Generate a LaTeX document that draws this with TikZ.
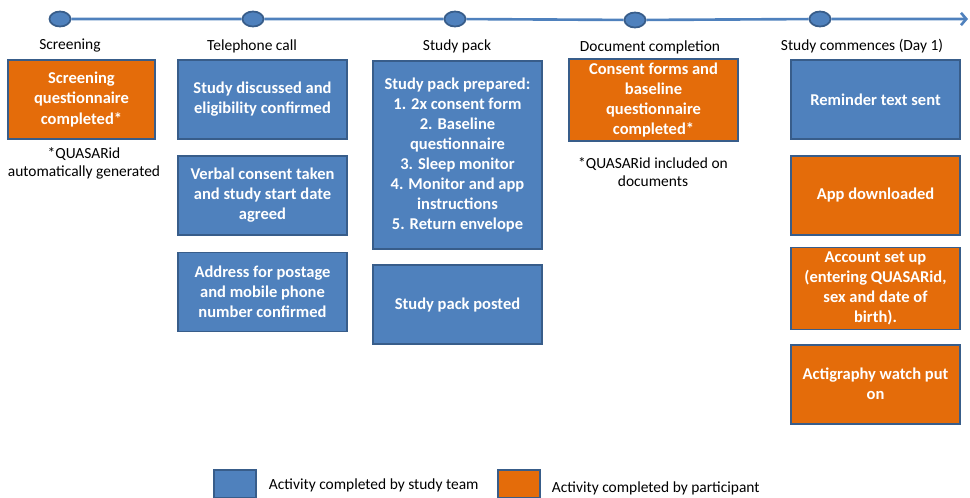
\documentclass[tikz,border=0pt]{standalone}
\usepackage{fontspec}
\setmainfont{Carlito}
\usetikzlibrary{arrows.meta, positioning, shapes.geometric}
\definecolor{teamblue}{HTML}{4F81BD}
\definecolor{partorange}{HTML}{E46C0A}
\definecolor{edgeblue}{HTML}{385D8A}

\begin{document}
\begin{tikzpicture}[
    x=0.02cm, y=-0.02cm,
    node distance=0.3cm,
    box/.style={draw=edgeblue, line width=1pt, text=white, font=\bfseries\fontsize{9.4}{11.4}\selectfont, align=center, minimum width=3.38cm, minimum height=1.58cm, inner sep=2pt},
    team/.style={box, fill=teamblue},
    part/.style={box, fill=partorange},
    phase/.style={font=\fontsize{8.8}{10}\selectfont},
    note/.style={font=\fontsize{8.8}{10.2}\selectfont, align=center},
    milestone/.style={ellipse, draw=edgeblue, fill=teamblue, line width=1pt, minimum width=0.42cm, minimum height=0.3cm, inner sep=0pt},
    timeline/.style={draw=teamblue, line width=1.5pt},
    legendbox/.style={draw=edgeblue, line width=1pt, minimum width=0.84cm, minimum height=0.56cm, anchor=north west}
]
\useasboundingbox (0,0) rectangle (970,497);

% Timeline
\node[milestone] (m1) at (60,19) {};
\node[milestone] (m2) at (253,19) {};
\node[milestone] (m3) at (455,19) {};
\node[milestone] (m4) at (635,20) {};
\node[milestone] (m5) at (820,19) {};
\coordinate (tend) at (968,19);
\draw[timeline, -{Straight Barb[length=3pt, width=7pt]}] (m1) -- (m2) -- (m3) -- (m4) -- (m5) -- (tend);

% Phase labels
\node[phase] (screening) at (70,46) {Screening};
\node[phase] (telephone) at (252,46) {Telephone call};
\node[phase] (pack) at (457,46) {Study pack};
\node[phase] (document) at (650,47) {Document completion};
\node[phase] (commence) at (862,46) {Study commences (Day 1)};

% Screening
\node[part, minimum width=2.94cm] (screen) at (81.5,99.5) {Screening\\questionnaire\\completed*};
\node[note] (screennote) at (84,163) {*QUASARid\\automatically generated};

% Telephone call
\node[team] (discuss) at (262.5,99.5) {Study discussed and\\eligibility confirmed};
\node[team, below=of discuss] (verbal) {Verbal consent taken\\and study start date\\agreed};
\node[team, below=0.32cm of verbal] (address) {Address for postage\\and mobile phone\\number confirmed};

% Study pack
\node[team, minimum height=3.76cm, anchor=north] (prepared) at (457.5,60) {Study pack prepared:\\1. 2x consent form\\2. Baseline\\questionnaire\\3. Sleep monitor\\4. Monitor and app\\instructions\\5. Return envelope};
\node[team, below=0.29cm of prepared] (posted) {Study pack posted};

% Document completion
\node[part, minimum height=1.6cm] (consent) at (653.5,100) {Consent forms and\\baseline\\questionnaire\\completed*};
\node[note] (docnote) at (653,172) {*QUASARid included on\\documents};

% Study commences
\node[team] (reminder) at (875.5,99.5) {Reminder text sent};
\node[part, below=of reminder] (app) {App downloaded};
\node[part, minimum height=1.64cm, below=0.22cm of app] (account) {Account set up\\(entering QUASARid,\\sex and date of\\birth).};
\node[part, below=0.27cm of account] (watch) {Actigraphy watch put\\on};

% Legend
\node[legendbox, fill=teamblue] (teamkey) at (213,469) {};
\node[phase, right=0.12cm of teamkey, yshift=-0.7pt] (teamtext) {Activity completed by study team};
\node[legendbox, fill=partorange] (partkey) at (497,469) {};
\node[phase, right=0.1cm of partkey, yshift=-2.5pt] (parttext) {Activity completed by participant};
\end{tikzpicture}
\end{document}
